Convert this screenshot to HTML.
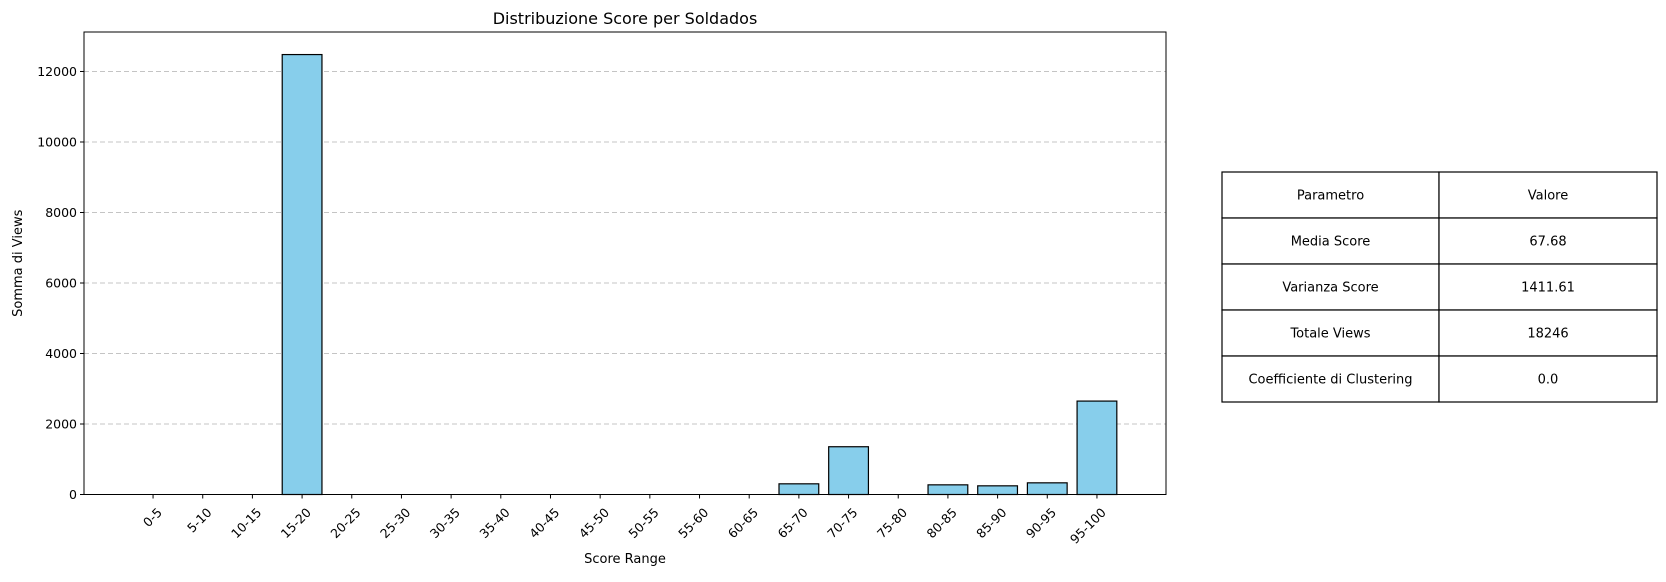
<!DOCTYPE html>
<html><head><meta charset="utf-8"><style>
body{margin:0;background:#fff;width:1666px;height:578px;overflow:hidden;font-family:"DejaVu Sans","Liberation Sans",sans-serif}
</style></head><body>
<svg id="chart" width="1666" height="578" xmlns="http://www.w3.org/2000/svg" font-family="DejaVu Sans, Liberation Sans, sans-serif">
</svg>
<script>
const categories=["0-5","5-10","10-15","15-20","20-25","25-30","30-35","35-40","40-45","45-50","50-55","55-60","60-65","65-70","70-75","75-80","80-85","85-90","90-95","95-100"];
const views=[0,0,0,12480,0,0,0,0,0,0,0,0,0,303,1355,0,274,246,331,2650];
const yTicks=[0,2000,4000,6000,8000,10000,12000];
const tableRows=[["Parametro","Valore"],["Media Score","67.68"],["Varianza Score","1411.61"],["Totale Views","18246"],["Coefficiente di Clustering","0.0"]];

const svg=document.getElementById('chart');
const NS='http://www.w3.org/2000/svg';
function mk(tag,attrs,parent){const e=document.createElementNS(NS,tag);for(const k in attrs)e.setAttribute(k,attrs[k]);(parent||svg).appendChild(e);return e;}
const L=84,R=1166,T=32,B=494.5;
const xmin=-1.39,xmax=20.39;
const ymax=13120;
function xs(i){return L+(i-xmin)/(xmax-xmin)*(R-L);}
function ys(v){return B-v/ymax*(B-T);}

yTicks.forEach(v=>{
  const g=mk('line',{x1:L,x2:R,y1:ys(v),y2:ys(v),stroke:'#c4c4c4','stroke-dasharray':'5,3','stroke-width':1});
  
  
  const tk=mk('line',{x1:L-4,x2:L,y1:ys(v),y2:ys(v),stroke:'#000'});
  
  
  const t=mk('text',{x:L-7,y:ys(v)+4.5,'text-anchor':'end','font-size':12.5,fill:'#000'});
  t.textContent=v;
  
  
});
const bw=0.8;
categories.forEach((c,i)=>{
  const x0=xs(i-bw/2),x1=xs(i+bw/2),y=ys(views[i]);
  const r=mk('rect',{x:x0,y:y,width:x1-x0,height:Math.max(B-y,0),fill:'#87ceeb',stroke:'#000','stroke-width':1.2});
  
  
  const tk=mk('line',{x1:xs(i),x2:xs(i),y1:B,y2:B+4,stroke:'#000'});
  
  
  const tx=xs(i)+3,ty=B+12;
  const t=mk('text',{x:tx,y:ty,'text-anchor':'end','font-size':12.5,fill:'#000',transform:`rotate(-45 ${tx} ${ty})`,'dominant-baseline':'hanging'});
  t.textContent=c;
  
  
});
const fr=mk('rect',{x:L,y:T,width:R-L,height:B-T,fill:'none',stroke:'#000','stroke-width':1});


const ti=mk('text',{x:(L+R)/2,y:24,'text-anchor':'middle','font-size':16,fill:'#000'});
ti.textContent='Distribuzione Score per Soldados';


const xl=mk('text',{x:(L+R)/2,y:563,'text-anchor':'middle','font-size':13,fill:'#000'});
xl.textContent='Score Range';


const yl=mk('text',{x:22,y:(T+B)/2,'text-anchor':'middle','font-size':13,fill:'#000',transform:`rotate(-90 22 ${(T+B)/2})`});
yl.textContent='Somma di Views';


const tL=1222,tM=1439,tR=1657,tT=172,rh=46;
tableRows.forEach((row,r)=>{
  const y=tT+r*rh;
  const c1=mk('rect',{x:tL,y:y,width:tM-tL,height:rh,fill:'#fff',stroke:'#000','stroke-width':1.2});
  
  
  const c2=mk('rect',{x:tM,y:y,width:tR-tM,height:rh,fill:'#fff',stroke:'#000','stroke-width':1.2});
  
  
  const a=mk('text',{x:(tL+tM)/2,y:y+rh/2+4.5,'text-anchor':'middle','font-size':13,fill:'#000'});
  a.textContent=row[0];
  
  
  const b=mk('text',{x:(tM+tR)/2,y:y+rh/2+4.5,'text-anchor':'middle','font-size':13,fill:'#000'});
  b.textContent=row[1];
  
  
});
</script>
</body></html>
